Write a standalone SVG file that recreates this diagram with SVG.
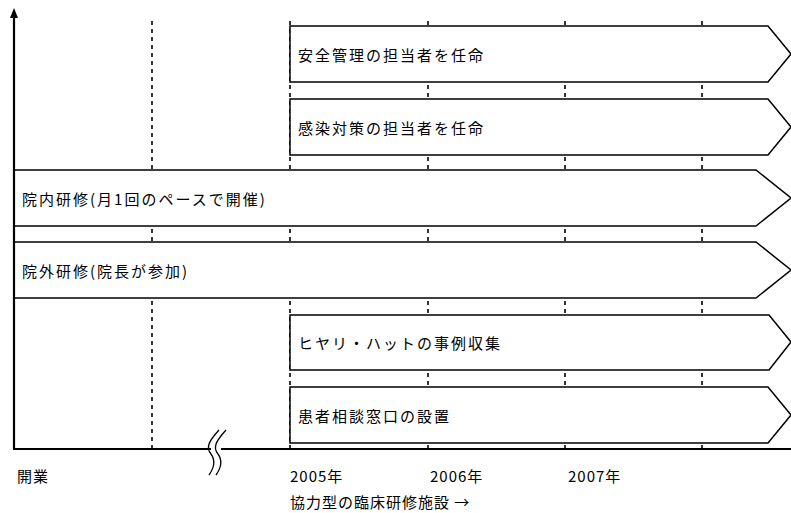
<svg xmlns="http://www.w3.org/2000/svg" width="791" height="513" viewBox="0 0 791 513">
<defs>
<style>
.grid{stroke:#000;stroke-width:1.6;stroke-dasharray:4 4;fill:none}
.box{fill:#fff;stroke:#000;stroke-width:1.5}
.axis{stroke:#000;stroke-width:2.2;fill:none}
.t{font-family:"Noto Sans CJK JP","Noto Sans CJK SC",sans-serif;font-size:15px;letter-spacing:2px;fill:#000;dominant-baseline:central}
.lbl{font-family:"Noto Sans CJK JP","Noto Sans CJK SC",sans-serif;font-size:15px;letter-spacing:1px;fill:#000;dominant-baseline:central}
</style>
<marker id="ah" viewBox="0 0 10 8" refX="0" refY="4" markerWidth="10" markerHeight="8" orient="auto" markerUnits="userSpaceOnUse">
<path d="M0,0 L10,4 L0,8 Z" fill="#000"/>
</marker>
</defs>
<rect width="791" height="513" fill="#fff"/>
<g id="gridlines">
<line class="grid" x1="152" y1="21" x2="152" y2="449"/>
<line class="grid" x1="290" y1="21" x2="290" y2="449"/>
<line class="grid" x1="428" y1="21" x2="428" y2="449"/>
<line class="grid" x1="565" y1="21" x2="565" y2="449"/>
<line class="grid" x1="702" y1="21" x2="702" y2="449"/>
</g>
<g id="node-anzen">
<polygon class="box" points="290,26 768,26 791,54 768,82 290,82"/>
<text class="t" x="298" y="54">安全管理の担当者を任命</text>
</g>
<g id="node-kansen">
<polygon class="box" points="290,99 768,99 791,127 768,155 290,155"/>
<text class="t" x="298" y="127">感染対策の担当者を任命</text>
</g>
<g id="node-innai">
<polygon class="box" points="14,170 756,170 791,198 756,226 14,226"/>
<text class="t" x="22" y="198">院内研修(月1回のペースで開催)</text>
</g>
<g id="node-ingai">
<polygon class="box" points="14,242 756,242 791,270 756,298 14,298"/>
<text class="t" x="22" y="270">院外研修(院長が参加)</text>
</g>
<g id="node-hiyari">
<polygon class="box" points="290,315 769,315 791,342 769,370 290,370"/>
<text class="t" x="298" y="342">ヒヤリ・ハットの事例収集</text>
</g>
<g id="node-kanja">
<polygon class="box" points="290,387 768,387 791,415 768,443 290,443"/>
<text class="t" x="298" y="415">患者相談窓口の設置</text>
</g>
<g id="connectors">
<line class="axis" x1="14" y1="449" x2="14" y2="18" marker-end="url(#ah)"/>
<line class="axis" x1="13" y1="449" x2="791" y2="449"/>
<rect x="211" y="444" width="10" height="10" fill="#fff"/>
<path d="M219,430 C210,440 205,447 211,454 C216,461 214,468 209,475" fill="none" stroke="#000" stroke-width="1.3"/>
<path d="M226,430 C217,440 212,447 218,454 C223,461 221,468 216,475" fill="none" stroke="#000" stroke-width="1.3"/>
</g>
<g id="labels">
<text class="lbl" x="17" y="475">開業</text>
<text class="lbl" x="290" y="475">2005年</text>
<text class="lbl" x="430" y="475">2006年</text>
<text class="lbl" x="568" y="475">2007年</text>
<text class="lbl" x="290" y="501">協力型の臨床研修施設 →</text>
</g>
</svg>
